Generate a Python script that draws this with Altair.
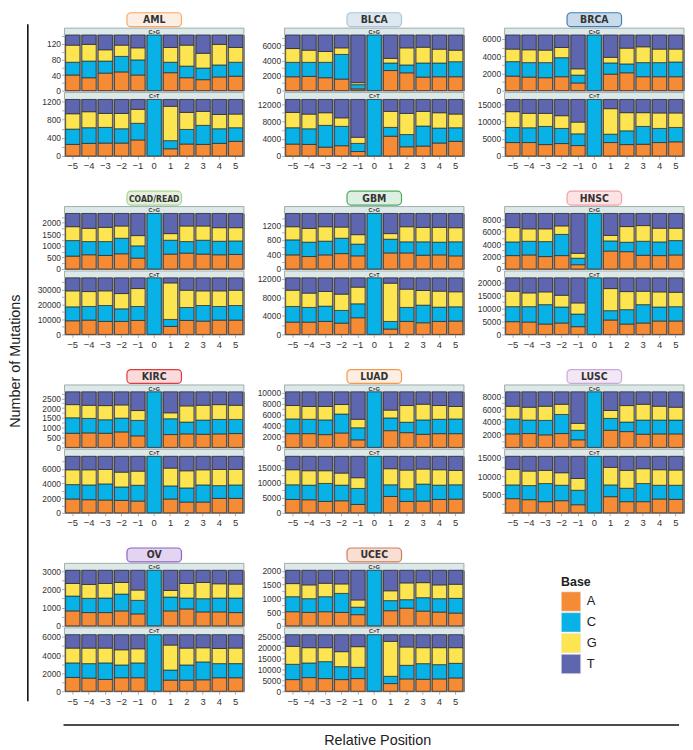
import altair as alt
import pandas as pd

positions = [-5, -4, -3, -2, -1, 0, 1, 2, 3, 4, 5]
bases = ["A", "C", "G", "T"]
base_colors = ["#F68B35", "#08B1E6", "#FDE451", "#5E66B0"]

cancers = ["AML", "BLCA", "BRCA", "COAD/READ", "GBM", "HNSC",
           "KIRC", "LUAD", "LUSC", "OV", "UCEC"]
box_fill = ["#FDEEE3", "#DEE8F0", "#C9DBEA", "#E4F0DC", "#DCEFE0", "#FDE4E4",
            "#FADBDC", "#FDEEE3", "#F2E7F4", "#E3D5F1", "#F8DED3"]
box_stroke = ["#F5A862", "#A9C5DC", "#3E80B8", "#A8D492", "#4DAA5E", "#F2A0A2",
              "#E03C40", "#F59A4C", "#C9A9D7", "#8E63C1", "#D07C5E"]

# totals per panel
CG_TOTAL = {"AML": 143, "BLCA": 7350, "BRCA": 6450, "COAD/READ": 2400, "GBM": 1530,
            "HNSC": 8900, "KIRC": 2830, "LUAD": 10100, "LUSC": 8700, "OV": 3050, "UCEC": 2020}
CT_TOTAL = {"AML": 1245, "BLCA": 13100, "BRCA": 16500, "COAD/READ": 37800, "GBM": 12200,
            "HNSC": 21800, "KIRC": 7700, "LUAD": 18800, "LUSC": 15400, "OV": 6250, "UCEC": 25900}

# cumulative tops (A, A+C, A+C+G) at positions -5..-1, 1..5 (position 0 is the mutated C)
CG_A = {
    "AML": [40, 33, 45, 48, 40, 46, 33, 28, 35, 37],
    "BLCA": [1826, 1870, 1696, 1522, 217, 2652, 2348, 1783, 1826, 1826],
    "BRCA": [1681, 1567, 1490, 1605, 879, 1911, 2064, 1605, 1605, 1605],
    "COAD/READ": [557, 614, 586, 657, 471, 643, 686, 643, 614, 629],
    "GBM": [388, 343, 388, 424, 361, 442, 442, 379, 388, 361],
    "HNSC": [2144, 2248, 1987, 2144, 680, 2876, 2771, 2196, 2144, 2248],
    "KIRC": [721, 738, 721, 789, 587, 654, 688, 671, 688, 705],
    "LUAD": [2500, 2500, 2320, 2620, 1370, 3040, 2680, 2380, 2500, 2500],
    "LUSC": [2116, 2168, 1961, 2168, 1187, 2684, 2477, 2065, 2116, 2116],
    "OV": [818, 727, 727, 818, 655, 818, 927, 764, 764, 727],
    "UCEC": [512, 488, 512, 488, 405, 548, 643, 536, 500, 464],
}
CG_C = {
    "AML": [73, 76, 76, 88, 79, 73, 63, 58, 66, 73],
    "BLCA": [3739, 3739, 3739, 4783, 783, 3652, 3391, 3652, 3652, 3826],
    "BRCA": [3363, 3248, 3248, 3821, 1796, 3210, 3095, 3248, 3248, 3324],
    "COAD/READ": [1229, 1186, 1186, 1329, 1000, 1243, 1186, 1243, 1200, 1214],
    "GBM": [803, 740, 767, 848, 686, 821, 749, 749, 740, 749],
    "HNSC": [4340, 4444, 4392, 5542, 1725, 4497, 4288, 4444, 4340, 4549],
    "KIRC": [1510, 1477, 1409, 1493, 1376, 1460, 1292, 1393, 1426, 1426],
    "LUAD": [5180, 5120, 5000, 6070, 3570, 5360, 4580, 5000, 5120, 5180],
    "LUSC": [4439, 4284, 4232, 5161, 2684, 4542, 3974, 4284, 4284, 4284],
    "OV": [1636, 1509, 1527, 1745, 1400, 1582, 1527, 1491, 1527, 1527],
    "UCEC": [1060, 988, 1060, 1179, 679, 917, 952, 1024, 988, 1000],
}
CG_G = {
    "AML": [117, 119, 105, 117, 110, 111, 117, 96, 119, 111],
    "BLCA": [5565, 5348, 5174, 5652, 1043, 4261, 5652, 5739, 5478, 5348],
    "BRCA": [4815, 4738, 4700, 5006, 2522, 3860, 4930, 5082, 4815, 4815],
    "COAD/READ": [1829, 1757, 1800, 1857, 1443, 1529, 1857, 1857, 1786, 1786],
    "GBM": [1164, 1119, 1164, 1155, 946, 975, 1164, 1146, 1146, 1137],
    "HNSC": [6640, 6431, 6431, 6902, 2510, 5386, 6797, 6954, 6536, 6536],
    "KIRC": [2181, 2148, 2131, 2164, 1879, 1762, 2114, 2148, 2181, 2148],
    "LUAD": [7620, 7440, 7440, 7800, 5120, 6790, 7620, 7860, 7620, 7440],
    "LUSC": [6452, 6297, 6452, 6761, 3768, 5781, 6555, 6761, 6452, 6297],
    "OV": [2327, 2273, 2327, 2382, 1964, 1945, 2327, 2382, 2309, 2291],
    "UCEC": [1536, 1488, 1548, 1524, 940, 1274, 1560, 1571, 1488, 1512],
}
CT_A = {
    "AML": [255, 278, 285, 285, 353, 158, 263, 255, 278, 323],
    "BLCA": [2760, 2680, 2050, 2370, 1030, 4580, 2130, 2290, 3000, 3390],
    "BRCA": [3920, 3920, 3330, 3630, 3040, 3920, 3330, 3430, 3920, 4120],
    "COAD/READ": [9110, 9560, 8670, 8670, 9330, 5330, 9330, 8890, 9560, 9560],
    "GBM": [2660, 2660, 2800, 2440, 3590, 1150, 2800, 2510, 2800, 2870],
    "HNSC": [4900, 4770, 4000, 4390, 2970, 5550, 4000, 4390, 5160, 5160],
    "KIRC": [1878, 1786, 1741, 1695, 1603, 1878, 1466, 1466, 1970, 1970],
    "LUAD": [4440, 4330, 3780, 4000, 2780, 5440, 3780, 3890, 4440, 4560],
    "LUSC": [3850, 3580, 3030, 3300, 2200, 4400, 3030, 3030, 3760, 3670],
    "OV": [1528, 1453, 1304, 1491, 1491, 1230, 1230, 1267, 1491, 1491],
    "UCEC": [5335, 6250, 5790, 5335, 5790, 3510, 5640, 5490, 5640, 6100],
}
CT_C = {
    "AML": [593, 623, 630, 600, 720, 338, 585, 675, 600, 623],
    "BLCA": [6550, 6310, 7100, 6870, 2920, 6630, 4970, 6950, 6470, 6550],
    "BRCA": [8330, 8240, 8630, 8040, 6470, 6370, 7350, 8630, 8040, 8330],
    "COAD/READ": [18440, 18670, 19330, 17110, 18670, 10000, 18000, 19330, 18670, 19330],
    "GBM": [6030, 5820, 6100, 5170, 6610, 2800, 5820, 6320, 5890, 5960],
    "HNSC": [10710, 10710, 11480, 10580, 7870, 9160, 9550, 11480, 10580, 10710],
    "KIRC": [3847, 3801, 3939, 3527, 3756, 3664, 3390, 3801, 3710, 3801],
    "LUAD": [9330, 9220, 9780, 9220, 8110, 9330, 8000, 9560, 9220, 9330],
    "LUSC": [7610, 7430, 7980, 7520, 6150, 7610, 6700, 7980, 7520, 7520],
    "OV": [3131, 3056, 3131, 2907, 3131, 2348, 2907, 3243, 3056, 3056],
    "UCEC": [12350, 12960, 13570, 11280, 10980, 6860, 11890, 12650, 12200, 12800],
}
CT_G = {
    "AML": [930, 975, 938, 938, 1028, 1095, 960, 983, 915, 923],
    "BLCA": [10100, 9710, 10020, 8840, 4340, 10340, 9870, 10340, 10020, 9710],
    "BRCA": [12940, 12450, 12450, 11760, 9900, 13820, 12650, 12650, 12550, 12550],
    "COAD/READ": [29110, 28670, 29110, 27330, 30670, 34440, 29560, 29110, 29110, 29560],
    "GBM": [9550, 8910, 9270, 8690, 10200, 11060, 9770, 9480, 9340, 9200],
    "HNSC": [16650, 16000, 16390, 15100, 12130, 17680, 16520, 16650, 16390, 16260],
    "KIRC": [5863, 5863, 5909, 5543, 5680, 6092, 5726, 5863, 5909, 5909],
    "LUAD": [14330, 14000, 14000, 13220, 11670, 14670, 14220, 14560, 14330, 14110],
    "LUSC": [11830, 11380, 11560, 10920, 9360, 12390, 11560, 12020, 11740, 11650],
    "OV": [4771, 4771, 4771, 4584, 4696, 5106, 4771, 4808, 4733, 4771],
    "UCEC": [20580, 19970, 19970, 18140, 20430, 22870, 20270, 19970, 19970, 19970],
}

# axis tick steps (major labelled, minor unlabelled)
CG_TICKS = {"AML": (40, 20), "BLCA": (2000, 1000), "BRCA": (2000, 1000), "COAD/READ": (500, 250),
            "GBM": (400, 200), "HNSC": (2000, 1000), "KIRC": (500, 250), "LUAD": (2000, 1000),
            "LUSC": (2000, 1000), "OV": (1000, 500), "UCEC": (500, 250)}
CT_TICKS = {"AML": (400, 200), "BLCA": (4000, 2000), "BRCA": (5000, 2500), "COAD/READ": (10000, 5000),
            "GBM": (4000, 2000), "HNSC": (5000, 2500), "KIRC": (2000, 1000), "LUAD": (5000, 2500),
            "LUSC": (5000, 2500), "OV": (2000, 1000), "UCEC": (5000, 2500)}
HIDE_ZERO = ["LUSC"]

PW = 181
FONT = "Liberation Sans"
TFONT = "Liberation Sans Narrow, DejaVu Sans Condensed, Liberation Sans"
NOVIEW = alt.ViewBackground(stroke="transparent", strokeOpacity=0)

legend = alt.Legend(orient="none", legendX=557, legendY=569, title="Base",
                    titleFont=FONT, titleFontSize=12.5, titleFontWeight="bold", titleColor="#222",
                    titlePadding=3, labelFont=FONT, labelFontSize=13, labelColor="#222",
                    labelOffset=6, symbolType="square", symbolSize=380,
                    symbolStrokeColor="#e8e8e8", symbolStrokeWidth=0.5, rowPadding=-3)


def panel_df(cancer, kind):
    if kind == "CG":
        total, A, C, G = CG_TOTAL[cancer], CG_A[cancer], CG_C[cancer], CG_G[cancer]
    else:
        total, A, C, G = CT_TOTAL[cancer], CT_A[cancer], CT_C[cancer], CT_G[cancer]
    rows = []
    for i, p in enumerate(positions):
        if p == 0:
            levels = [0, 0, total, total, total]
        else:
            k = i if i < 5 else i - 1
            levels = [0, A[k], C[k], G[k], total]
        for j, b in enumerate(bases):
            if levels[j + 1] > levels[j]:
                rows.append({"pos": p, "base": b, "lo": levels[j], "hi": levels[j + 1]})
    return pd.DataFrame(rows), total


def bars(cancer, kind, show_x):
    df, total = panel_df(cancer, kind)
    major, minor = (CG_TICKS if kind == "CG" else CT_TICKS)[cancer]
    vals = list(range(0, int(total) + 1, minor))
    cond = f"datum.value % {major} == 0"
    if cancer in HIDE_ZERO:
        cond += " && datum.value > 0"
    yaxis = alt.Axis(values=vals, format="d", labelExpr=f"{cond} ? datum.label : ''",
                     title=None, tickSize=3, tickColor="#999", tickWidth=0.8, domain=False,
                     grid=False, labelFontSize=8.5, labelColor="#333", labelPadding=1,
                     labelFont=FONT, minExtent=30, maxExtent=30)
    if show_x:
        xaxis = alt.Axis(title=None, labelAngle=0, labelExpr="replace(datum.label, '-', '\u2212')",
                         tickSize=3, tickColor="#999", tickWidth=0.8, domain=False,
                         labelFontSize=9.5, labelColor="#333", labelPadding=2, labelFont=FONT,
                         minExtent=16, maxExtent=16)
    else:
        xaxis = None
    return alt.Chart(df).mark_bar(stroke="#1c1c1c", strokeWidth=0.6).encode(
        x=alt.X("pos:O", sort=positions,
                scale=alt.Scale(domain=positions, paddingInner=0.13, paddingOuter=0.07),
                axis=xaxis),
        y=alt.Y("lo:Q", scale=alt.Scale(domain=[0, total], nice=False, zero=True), axis=yaxis),
        y2="hi:Q",
        color=alt.Color("base:N", scale=alt.Scale(domain=bases, range=base_colors), legend=legend),
    ).properties(width=PW, height=56 if kind == "CG" else 57,
                 view=alt.ViewBackground(fill="#8e8e8e", stroke="#7f7f7f", strokeWidth=1))


def strip(label, gap):
    base = alt.Chart(pd.DataFrame({"t": [label]}))
    rect = base.mark_rect(fill="#DDE9E9", stroke="#8f9c9c", strokeWidth=0.8).encode(
        x=alt.value(0), x2=alt.value(PW), y=alt.value(gap), y2=alt.value(gap + 7))
    txt = base.mark_text(fontSize=5.5, fontWeight="bold", color="#333", font=FONT,
                         baseline="middle").encode(
        x=alt.value(PW / 2), y=alt.value(gap + 3.6), text="t:N")
    return alt.layer(rect, txt).properties(width=PW, height=gap + 7, view=NOVIEW)


def title_box(name, fill, stroke):
    base = alt.Chart(pd.DataFrame({"name": [name]}))
    fs = 8.6 if len(name) > 5 else 10.5
    rect = base.mark_rect(cornerRadius=4, fill=fill, stroke=stroke, strokeWidth=1.2).encode(
        x=alt.value(PW / 2 - 27.5), x2=alt.value(PW / 2 + 27.5), y=alt.value(0.5), y2=alt.value(14.5))
    txt = base.mark_text(font=TFONT, fontSize=fs, fontWeight="bold", color="#333",
                         baseline="middle").encode(
        x=alt.value(PW / 2), y=alt.value(8), text="name:N")
    return alt.layer(rect, txt).properties(width=PW, height=15.5, view=NOVIEW)


blocks = []
for i, c in enumerate(cancers):
    blocks.append(alt.vconcat(
        title_box(c, box_fill[i], box_stroke[i]),
        strip("C>G", 0), bars(c, "CG", False),
        strip("C>T", 2), bars(c, "CT", True),
        spacing=0, bounds="flush"))

rows = [alt.hconcat(*blocks[i:i + 3], spacing=9) for i in range(0, len(blocks), 3)]
grid = alt.vconcat(*rows, spacing=17)

one = pd.DataFrame({"t": ["Number of Mutations"]})
left = alt.layer(
    alt.Chart(one).mark_rule(color="#111", strokeWidth=1.6).encode(
        x=alt.value(19), y=alt.value(12), y2=alt.value(695)),
    alt.Chart(one).mark_text(angle=270, fontSize=14.5, font=FONT, color="#222", baseline="middle").encode(
        x=alt.value(7), y=alt.value(352), text="t:N"),
).properties(width=22, height=680, view=NOVIEW)

two = pd.DataFrame({"t": ["Relative Position"]})
bottom = alt.layer(
    alt.Chart(two).mark_rule(color="#111", strokeWidth=1.6).encode(
        x=alt.value(55), x2=alt.value(676), y=alt.value(17)),
    alt.Chart(two).mark_text(fontSize=14.5, font=FONT, color="#222", baseline="middle").encode(
        x=alt.value(372), y=alt.value(33), text="t:N"),
).properties(width=676, height=38, view=NOVIEW)

top = alt.hconcat(left, grid, spacing=3)
chart = alt.vconcat(top, bottom, spacing=0).properties(padding=0).configure_view(
    stroke=None).configure(font=FONT)

chart.save("out.html", embed_options={"renderer": "svg", "actions": False})
